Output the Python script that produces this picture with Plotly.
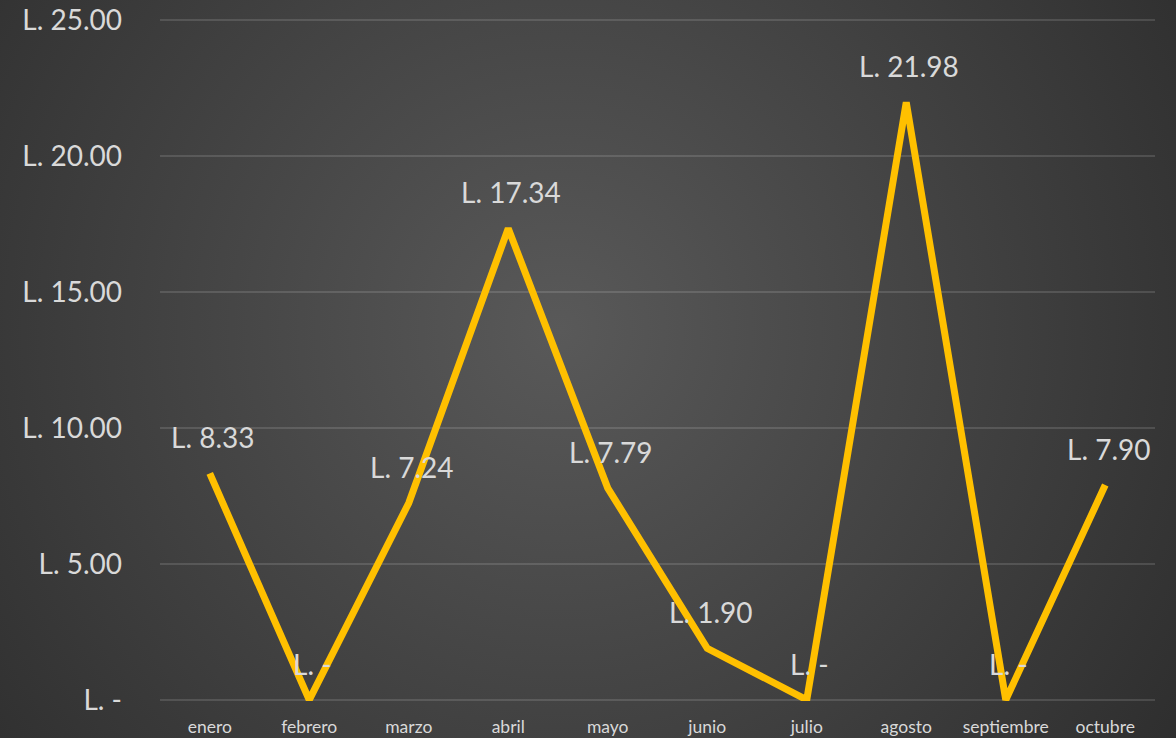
import base64
import plotly.graph_objects as go

months = ["enero", "febrero", "marzo", "abril", "mayo", "junio", "julio", "agosto", "septiembre", "octubre"]
values = [8.33, 0, 7.24, 17.34, 7.79, 1.90, 0, 21.98, 0, 7.90]
tick_vals = [0, 5, 10, 15, 20, 25]
tick_text = ["L. -", "L. 5.00", "L. 10.00", "L. 15.00", "L. 20.00", "L. 25.00"]


def fmt(v):
    return "L. -" if v == 0 else f"L. {v:.2f}"


W, H = 1176, 738
ml, mr, mt, mb = 160, 21, 19, 37
pw, ph = W - ml - mr, H - mt - mb

svg = f'''<svg xmlns="http://www.w3.org/2000/svg" width="{W}" height="{H}" viewBox="0 0 {W} {H}" preserveAspectRatio="none">
<defs><radialGradient id="g" cx="{560/W}" cy="{330/H}" r="0.75" gradientTransform="translate({560/W},{330/H}) scale(1,{W/H}) translate({-560/W},{-330/H})">
<stop offset="0" stop-color="#595959"/><stop offset="1" stop-color="#262626"/></radialGradient></defs>
<rect width="{W}" height="{H}" fill="url(#g)"/></svg>'''
src = "data:image/svg+xml;base64," + base64.b64encode(svg.encode()).decode()

fig = go.Figure()
fig.add_trace(go.Scatter(
    x=months, y=values, mode="lines",
    line=dict(color="#FFC000", width=7),
    hoverinfo="skip", cliponaxis=False,
))

for m, v in zip(months, values):
    fig.add_annotation(x=m, y=v, text=fmt(v), showarrow=False, yshift=36, xshift=3,
                       font=dict(family="Lato", size=28, color="#d9d9d9"))

fig.add_layout_image(dict(
    source=src, xref="paper", yref="paper",
    x=-ml / pw, y=1 + mt / ph, sizex=W / pw, sizey=H / ph,
    xanchor="left", yanchor="top", sizing="stretch", layer="below",
))

fig.update_layout(
    width=W, height=H,
    margin=dict(l=ml, r=mr, t=mt, b=mb, autoexpand=False),
    paper_bgcolor="#2b2b2b",
    plot_bgcolor="rgba(0,0,0,0)",
    showlegend=False,
    xaxis=dict(range=[-0.5, len(months) - 0.5], showgrid=False, zeroline=False, showline=False,
               automargin=False,
               tickfont=dict(family="Lato", size=17.5, color="#d9d9d9"),
               ticks="", ticklabelstandoff=13, fixedrange=True),
    yaxis=dict(range=[-0.04, 25.04], tickvals=tick_vals, ticktext=tick_text, automargin=False,
               showgrid=True, gridcolor="rgba(255,255,255,0.13)", gridwidth=1.5,
               zeroline=True, zerolinecolor="rgba(255,255,255,0.13)", zerolinewidth=1.5,
               showline=False, ticks="",
               tickfont=dict(family="Lato", size=28, color="#d9d9d9"),
               ticklabelstandoff=37, fixedrange=True),
)

fig.write_html("out.html", config={"displayModeBar": False})
with open("out.html", encoding="utf-8") as f:
    html = f.read()
html = html.replace("<head>", "<head><style>html,body{margin:0;padding:0;background:#2b2b2b;overflow:hidden}</style>", 1)
with open("out.html", "w", encoding="utf-8") as f:
    f.write(html)
